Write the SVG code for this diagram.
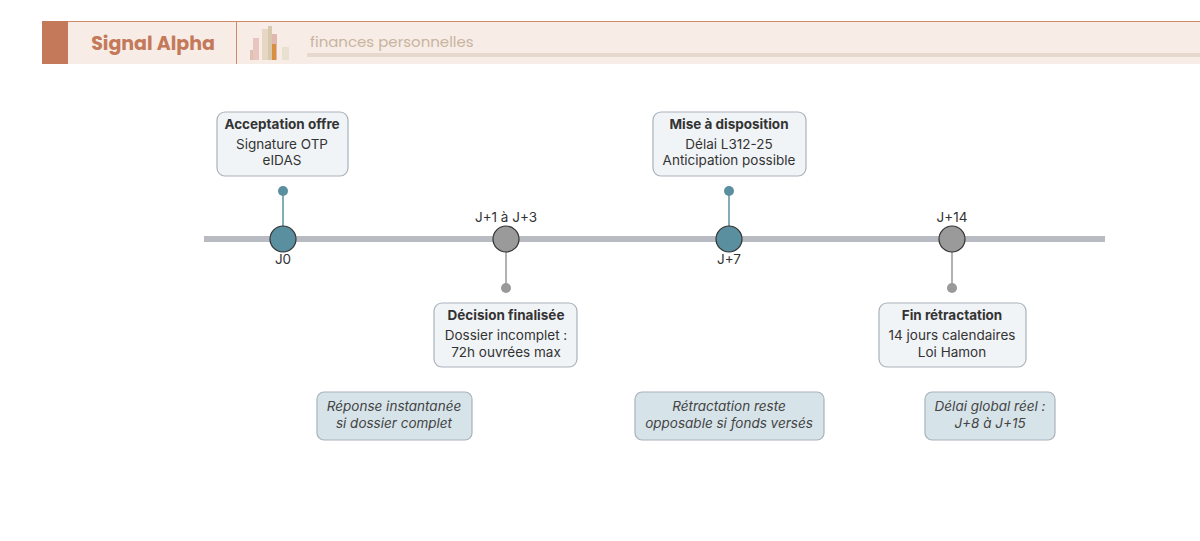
<svg xmlns="http://www.w3.org/2000/svg" width="1200" height="541" viewBox="0 0 1200 541">
<style>
.t{font-family:Inter,"Liberation Sans",sans-serif;fill:#333;font-size:13.5px;text-anchor:middle}
.b{font-weight:bold}
.i{font-style:italic;fill:#444}
.card{fill:#f1f4f7;stroke:#aab2bb;stroke-width:1.2}
.note{fill:#d6e3e9;stroke:#aab2bb;stroke-width:1.2}
</style>
<rect width="1200" height="541" fill="#fff"/>
<g id="header">
<rect x="42" y="21" width="1158" height="43" fill="#f7ece6"/>
<line x1="42" y1="21.5" x2="1200" y2="21.5" stroke="#d08a6a"/>
<rect x="42" y="21" width="26" height="43" fill="#c47a5a"/>
<line x1="236.5" y1="21" x2="236.5" y2="64" stroke="#d08a6a"/>
<text x="153" y="50" font-family="Poppins,'Open Sans',sans-serif" font-weight="bold" font-size="19" fill="#c47a5a" text-anchor="middle">Signal Alpha</text>
<rect x="250" y="50" width="6" height="10" fill="#e0c0b0"/>
<rect x="253" y="38" width="6" height="22" fill="#e8c6c0"/>
<rect x="262" y="29" width="6" height="31" fill="#e6d6c4"/>
<rect x="268" y="26" width="4" height="34" fill="#d8c8b0"/>
<rect x="272" y="34" width="5" height="26" fill="#e0b8b0"/>
<rect x="272" y="44" width="4" height="16" fill="#d89040"/>
<rect x="282" y="47" width="7" height="13" fill="#e8e0d0"/>
<text x="310" y="47" font-family="Poppins,'Open Sans',sans-serif" font-size="15" fill="#c8b4a0">finances personnelles</text>
<rect x="307" y="53" width="893" height="4" fill="#e6d8cc"/>
</g>
<g id="connectors">
<line x1="204" y1="239" x2="1105" y2="239" stroke="#b8bcc2" stroke-width="6"/>
<line x1="283" y1="191" x2="283" y2="239" stroke="#5a8fa0" stroke-width="1.5"/>
<circle cx="283" cy="191" r="5" fill="#5a8fa0"/>
<line x1="729" y1="191" x2="729" y2="239" stroke="#5a8fa0" stroke-width="1.5"/>
<circle cx="729" cy="191" r="5" fill="#5a8fa0"/>
<line x1="506" y1="239" x2="506" y2="288" stroke="#999" stroke-width="1.5"/>
<circle cx="506" cy="288" r="5" fill="#999"/>
<line x1="952" y1="239" x2="952" y2="288" stroke="#999" stroke-width="1.5"/>
<circle cx="952" cy="288" r="5" fill="#999"/>
</g>
<g id="m0"><circle cx="283" cy="239" r="13" fill="#5a8fa0" stroke="#333" stroke-width="1.2"/><text class="t" x="283" y="264">J0</text></g>
<g id="m1"><circle cx="506" cy="239" r="13" fill="#9a9a9a" stroke="#333" stroke-width="1.2"/><text class="t" x="506" y="222">J+1 à J+3</text></g>
<g id="m2"><circle cx="729" cy="239" r="13" fill="#5a8fa0" stroke="#333" stroke-width="1.2"/><text class="t" x="729" y="264">J+7</text></g>
<g id="m3"><circle cx="952" cy="239" r="13" fill="#9a9a9a" stroke="#333" stroke-width="1.2"/><text class="t" x="952" y="222">J+14</text></g>
<g id="c0"><rect class="card" x="217" y="112" width="131" height="64" rx="8"/><text class="t b" x="282" y="129">Acceptation offre</text><text class="t" x="282" y="149">Signature OTP</text><text class="t" x="282" y="165">eIDAS</text></g>
<g id="c2"><rect class="card" x="653" y="112" width="153" height="64" rx="8"/><text class="t b" x="729" y="129">Mise à disposition</text><text class="t" x="729" y="149">Délai L312-25</text><text class="t" x="729" y="165">Anticipation possible</text></g>
<g id="c1"><rect class="card" x="434" y="303" width="143" height="64" rx="8"/><text class="t b" x="506" y="320">Décision finalisée</text><text class="t" x="506" y="340">Dossier incomplet :</text><text class="t" x="506" y="357">72h ouvrées max</text></g>
<g id="c3"><rect class="card" x="879" y="303" width="147" height="64" rx="8"/><text class="t b" x="952" y="320">Fin rétractation</text><text class="t" x="952" y="340">14 jours calendaires</text><text class="t" x="952" y="357">Loi Hamon</text></g>
<g id="n0"><rect class="note" x="317" y="392" width="155" height="48" rx="7"/><text class="t i" x="394" y="411">Réponse instantanée</text><text class="t i" x="394" y="428">si dossier complet</text></g>
<g id="n1"><rect class="note" x="635" y="392" width="189" height="48" rx="7"/><text class="t i" x="729" y="411">Rétractation reste</text><text class="t i" x="729" y="428">opposable si fonds versés</text></g>
<g id="n2"><rect class="note" x="925" y="392" width="130" height="48" rx="7"/><text class="t i" x="990" y="411">Délai global réel :</text><text class="t i" x="990" y="428">J+8 à J+15</text></g>
</svg>
